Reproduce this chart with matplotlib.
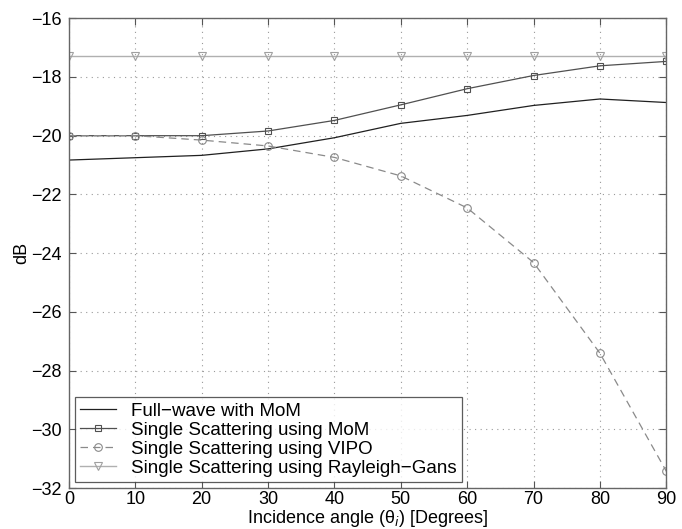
import matplotlib
matplotlib.use('Agg')
import matplotlib.pyplot as plt

plt.rcParams['font.family'] = ['Liberation Sans', 'DejaVu Sans']

angles = [0, 10, 20, 30, 40, 50, 60, 70, 80, 90]
full_wave = [-20.83, -20.75, -20.67, -20.45, -20.07, -19.58, -19.31, -18.97, -18.75, -18.87]
ss_mom = [-20.0, -20.0, -20.0, -19.84, -19.48, -18.95, -18.40, -17.95, -17.62, -17.47]
ss_vipo = [-20.0, -20.0, -20.15, -20.35, -20.74, -21.37, -22.46, -24.32, -27.41, -31.43]
ss_rg = [-17.29] * 10

fig = plt.figure(figsize=(6.82, 5.29), dpi=100)
ax = fig.add_axes([0.101, 0.0775, 0.876, 0.888])

ax.plot(angles, full_wave, color='#202020', lw=0.9, label='Full\u2212wave with MoM')
ax.plot(angles, ss_mom, color='#505050', lw=0.9, marker='s', ms=4.5, mfc='none',
        mec='#505050', mew=0.8, label='Single Scattering using MoM')
ax.plot(angles, ss_vipo, color='#8a8a8a', lw=0.9, ls=(0, (6, 4)), marker='o', ms=5.5,
        mfc='none', mec='#8a8a8a', mew=0.8, label='Single Scattering using VIPO')
ax.plot(angles, ss_rg, color='#b0b0b0', lw=1.0, marker='v', ms=6, mfc='none',
        mec='#a0a0a0', mew=0.8, label='Single Scattering using Rayleigh\u2212Gans')

ax.set_xlim(0, 90)
ax.set_ylim(-32, -16)
ax.set_xticks(range(0, 91, 10))
ax.set_yticks(range(-32, -15, 2))
ax.set_yticklabels(['\u2212%d' % -v for v in range(-32, -15, 2)])
ax.grid(True, ls=(0, (1, 4)), color='#999999', lw=0.8)
ax.tick_params(direction='in', labelsize=13, length=5, top=True, right=True,
               labeltop=False, labelright=False, colors='#555555', labelcolor='black')
ax.tick_params(axis='x', pad=2)
ax.tick_params(axis='y', pad=5)
for s in ax.spines.values():
    s.set_color('#666666')
    s.set_linewidth(1.0)

ax.set_xlabel('Incidence angle (\u03b8$_i$) [Degrees]', fontsize=13, labelpad=0)
ax.set_ylabel('dB', fontsize=13, labelpad=1)

leg = ax.legend(loc='lower left', fontsize=13.5, frameon=True, fancybox=False,
                edgecolor='#333333', borderaxespad=0.3, handlelength=1.9,
                labelspacing=0.1, borderpad=0.3)
leg.get_frame().set_linewidth(0.9)

fig.savefig('out.png', dpi=100)
